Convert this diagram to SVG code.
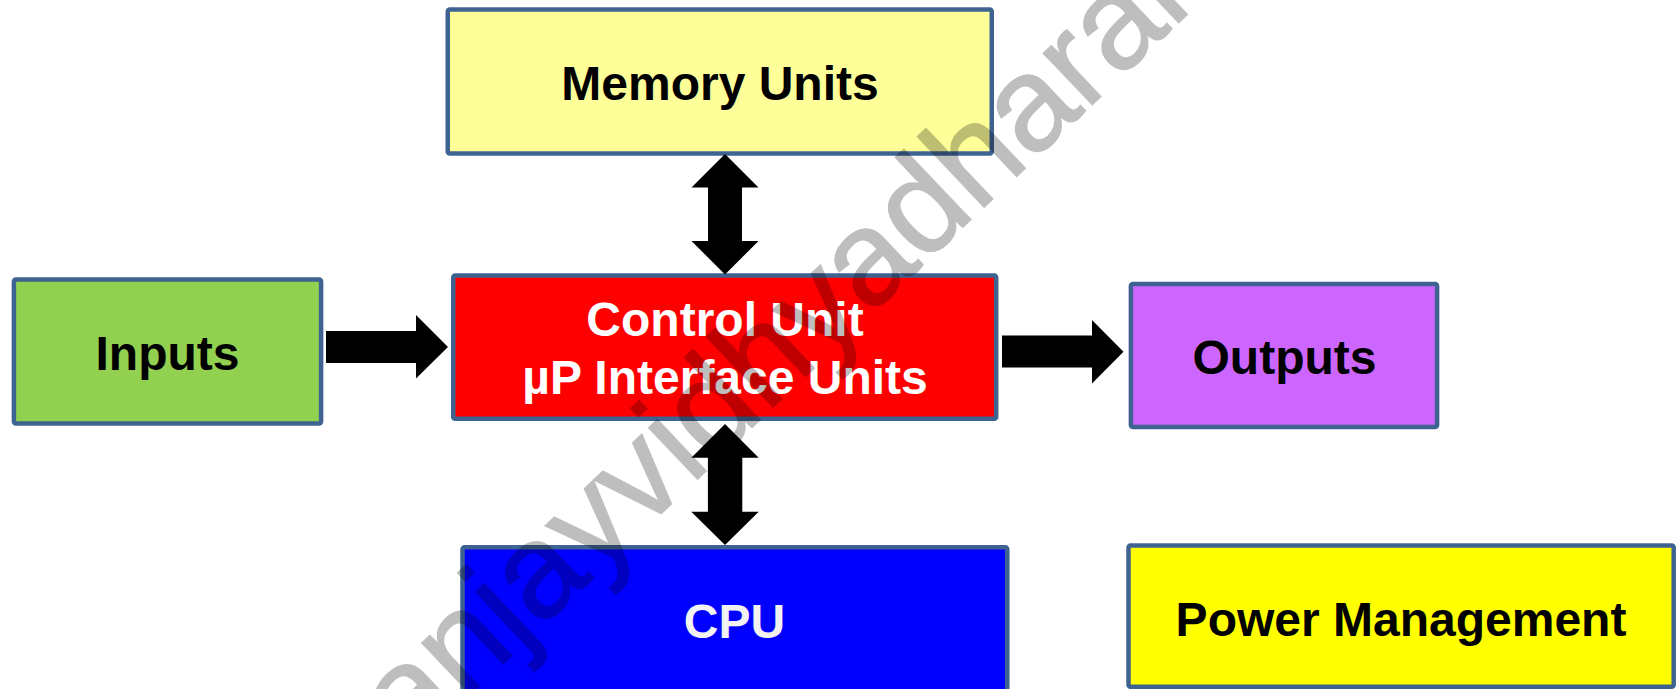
<svg xmlns="http://www.w3.org/2000/svg" width="1679" height="689" viewBox="0 0 1679 689">
<style>
.box{stroke:#3F6391;stroke-width:4.5;}
.lbl{font-family:"Liberation Sans",Arial,sans-serif;font-weight:bold;font-size:48px;text-anchor:middle;}
.arrow{fill:#000;}
.wm{font-family:"Liberation Sans",Arial,sans-serif;font-size:134px;fill:#000;stroke:#000;stroke-width:1.5;}
</style>
<rect width="1679" height="689" fill="#fff"/>
<g id="memory">
<rect class="box" x="447.75" y="9.5" width="544" height="144" rx="2" fill="#FFFF99"/>
<text class="lbl" x="720" y="99.5" fill="#000">Memory Units</text>
</g>
<g id="control">
<rect class="box" x="453.2" y="275.5" width="543" height="143.3" rx="2" fill="#FF0000"/>
<text class="lbl" x="725" y="336" fill="#fff">Control Unit</text>
<text class="lbl" x="725" y="393.5" fill="#fff">µP Interface Units</text>
</g>
<g id="inputs">
<rect class="box" x="13.9" y="279.5" width="307.2" height="144" rx="2" fill="#92D050"/>
<text class="lbl" x="167.5" y="370" fill="#000">Inputs</text>
</g>
<g id="outputs">
<rect class="box" x="1130.9" y="283.9" width="306.2" height="143.2" rx="2" fill="#CC66FF"/>
<text class="lbl" x="1284.5" y="374" fill="#000">Outputs</text>
</g>
<g id="cpu">
<rect class="box" x="462.5" y="547.2" width="544.8" height="160" rx="2" fill="#0000FF"/>
<text class="lbl" x="734.5" y="637.5" fill="#F2F2F2">CPU</text>
</g>
<g id="power">
<rect class="box" x="1128.5" y="545.5" width="545.2" height="141.3" rx="2" fill="#FFFF00"/>
<text class="lbl" x="1401" y="636" fill="#000">Power Management</text>
</g>
<g id="connectors">
<polygon class="arrow" points="725,154 758.5,187.5 742,187.5 742,241 758.5,241 725,274.5 691.5,241 708,241 708,187.5 691.5,187.5"/>
<polygon class="arrow" points="725,424 758.7,457.7 742.3,457.7 742.3,511.7 758.7,511.7 725,545 691.3,511.7 707.9,511.7 707.9,457.7 691.3,457.7"/>
<polygon class="arrow" points="326,331 416,331 416,315 448,347 416,378.5 416,363 326,363"/>
<polygon class="arrow" points="1002,335.5 1092,335.5 1092,320 1123.5,351.7 1092,383.4 1092,367.5 1002,367.5"/>
</g>
<g id="watermark" opacity="0.25">
<text class="wm" transform="translate(410,752) rotate(-43.5)">anjayvidhyadharan</text>
</g>
</svg>
